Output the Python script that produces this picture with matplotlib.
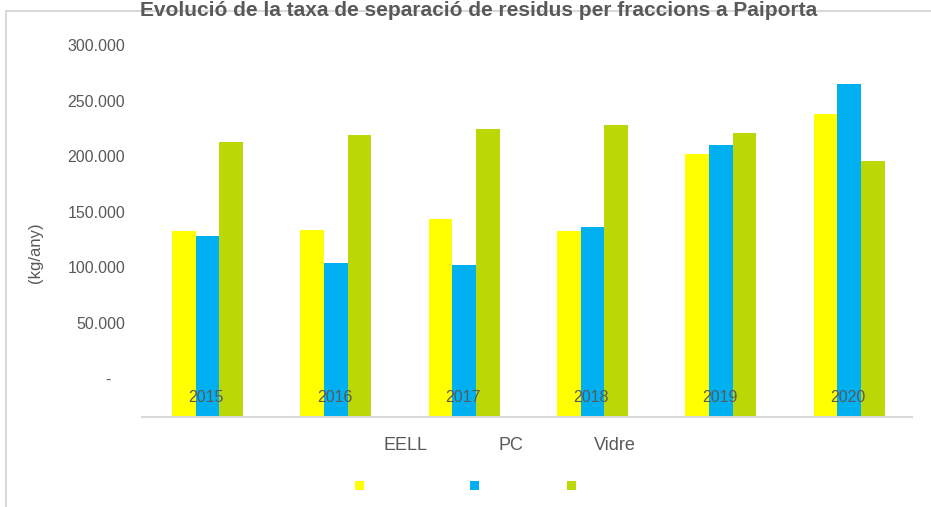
import matplotlib
matplotlib.use("Agg")
import matplotlib.pyplot as plt
from matplotlib.patches import Rectangle
from matplotlib.lines import Line2D
from matplotlib.ticker import FuncFormatter
import numpy as np

plt.rcParams['font.family'] = ['Liberation Sans', 'DejaVu Sans']

years = ["2015", "2016", "2017", "2018", "2019", "2020"]
series_names = ["EELL", "PC", "Vidre"]
eell = [132400, 133300, 143200, 132400, 202000, 237800]
pc = [128000, 103600, 101800, 136000, 210000, 264900]
vidre = [212600, 218600, 224000, 227600, 220700, 195500]
colors = ["#FFFF00", "#00B0F0", "#BBD806"]
yticks = [0, 50000, 100000, 150000, 200000, 250000, 300000]
title = "Evolució de la taxa de separació de residus per fraccions a Paiporta"
ylabel = "(kg/any)"

W, H = 931, 507
fig = plt.figure(figsize=(W / 100, H / 100), dpi=100)
txt = "#595959"
grey = "#d9d9d9"

ax = fig.add_axes([142 / W, 1 - 417 / H, (912 - 142) / W, (417 - 45) / H])
ymin, ymax = -35000, 300000
x = np.arange(len(years))
w = 0.185
for i, (vals, c) in enumerate(zip([eell, pc, vidre], colors)):
    v = np.array(vals, dtype=float)
    ax.bar(x + (i - 1) * w + 0.01, v - ymin, bottom=ymin, width=w, color=c,
           linewidth=0, zorder=1)

ax.set_xlim(-0.5, len(years) - 0.5)
ax.set_ylim(ymin, ymax)
ax.set_yticks(yticks)


def fmt(v, pos):
    if v == 0:
        return "-   "
    return f"{int(v):,}".replace(",", ".")


ax.yaxis.set_major_formatter(FuncFormatter(fmt))
ax.set_xticks(x)
ax.set_xticklabels(years)
for lab in ax.get_xticklabels():
    lab.set_va("center")
ax.tick_params(axis="x", length=0, pad=-14, labelsize=11.5, labelcolor=txt)
ax.tick_params(axis="y", length=0, pad=12, labelsize=11.5, labelcolor=txt)
for s in ["top", "right", "left"]:
    ax.spines[s].set_visible(False)
ax.spines["bottom"].set_color(grey)
ax.spines["bottom"].set_linewidth(1.5)
ax.spines["bottom"].set_zorder(3)

# frame of chart area
fig.add_artist(Line2D([6 / W, 6 / W], [0, 1 - 11 / H], color=grey, lw=1.5))
fig.add_artist(Line2D([6 / W, 1], [1 - 11 / H, 1 - 11 / H], color=grey, lw=1.5))

fig.text(479 / W, 1 - 16.5 / H, title, ha="center", va="baseline",
         fontsize=15, fontweight="bold", color=txt)
fig.text(36 / W, 1 - 253 / H, ylabel, rotation=90, ha="center", va="center",
         fontsize=12, color=txt)

# legend
lab_x = [405.5, 511, 615]
sq_x = [355, 470, 567]
for name, c, lx, sx in zip(series_names, colors, lab_x, sq_x):
    fig.text(lx / W, 1 - 445.5 / H, name, ha="center", va="center",
             fontsize=13, color=txt)
    fig.add_artist(Rectangle((sx / W, 1 - 490 / H), 9 / W, 9 / H,
                             transform=fig.transFigure, color=c, lw=0))

fig.savefig("out.png", dpi=100)
